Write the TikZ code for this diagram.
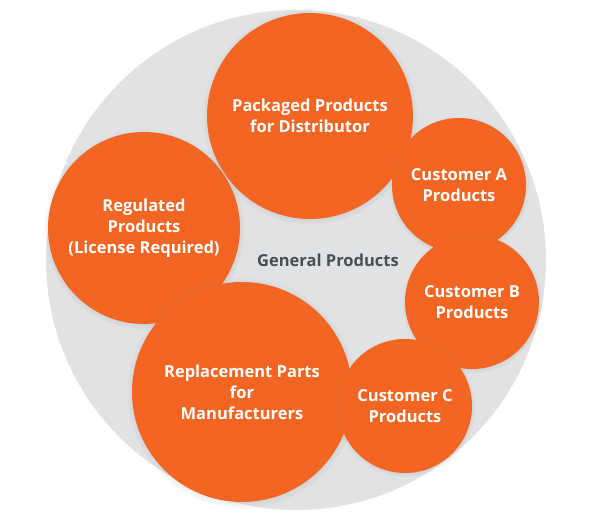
\documentclass[tikz,border=0pt]{standalone}
\usepackage{fontspec}
\setmainfont{Open Sans}
\usetikzlibrary{shadows}
\definecolor{bubble}{HTML}{F26522}
\definecolor{backdisc}{HTML}{E1E2E4}
\definecolor{midtext}{HTML}{4A4D52}
\tikzset{
  bubble/.style={circle,fill=bubble,inner sep=0pt,align=center,text=white,
    font=\fontsize{16.5}{21}\selectfont\bfseries,
    circular drop shadow={shadow xshift=0pt,shadow yshift=-1pt,shadow scale=1.05,opacity=.35}},
}
\begin{document}
\begin{tikzpicture}[x=1pt,y=-1pt]
      \useasboundingbox (0,0) rectangle (591,524);
      \fill[white] (0,0) rectangle (591,524);
      % background disc
      \fill[backdisc] (296,260) circle (250);
      \node[midtext,font=\fontsize{16.5}{21}\selectfont\bfseries] (gen) at (328,260) {General Products};
      % product groups
      \node[bubble,minimum size=192] (reg) at (144,228) {Regulated\\Products\\(License Required)};
      \node[bubble,minimum size=206] (pack) at (310,116) {Packaged Products\\for Distributor};
      \node[bubble,minimum size=134] (custa) at (459,185) {Customer A\\Products};
      \node[bubble,minimum size=134] (custb) at (472,302) {Customer B\\Products};
      \node[bubble,minimum size=220] (repl) at (242,392) {Replacement Parts\\for\\Manufacturers};
      \node[bubble,minimum size=134] (custc) at (405,406) {Customer C\\Products};
\end{tikzpicture}
\end{document}
